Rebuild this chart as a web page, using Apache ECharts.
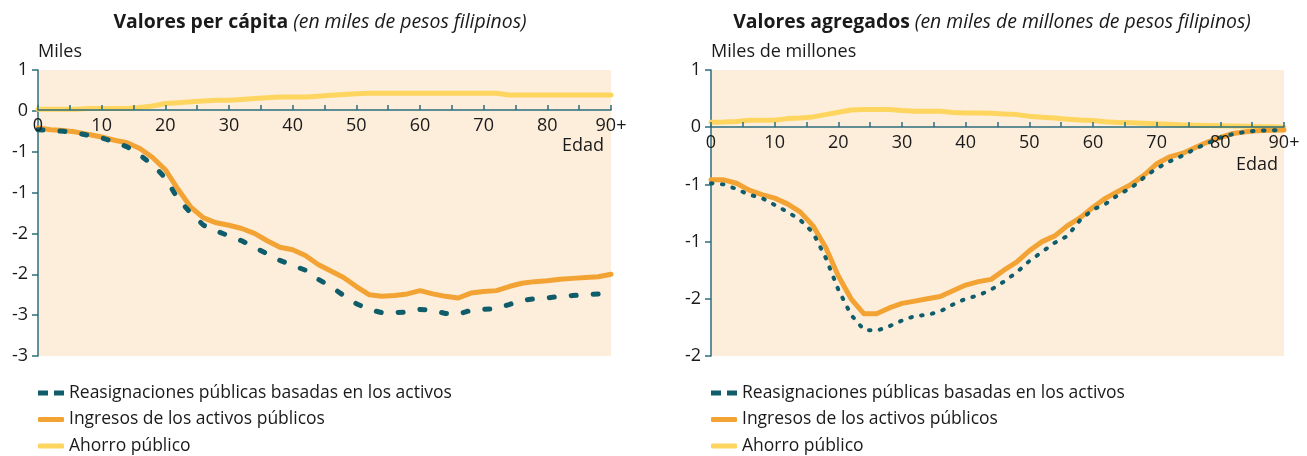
<!DOCTYPE html>
<html>
<head>
<meta charset="utf-8">
<style>
    html, body { margin: 0; padding: 0; background: #fff; }
    #chart { width: 1307px; height: 456px; }
</style>
</head>
<body>
<div id="chart"></div>
<script src="https://cdn.jsdelivr.net/npm/echarts@6/dist/echarts.min.js"></script>
<script>
    // edades (0 a 90+)
    let ages = [0, 2, 4, 6, 8, 10, 12, 14, 16, 18, 20, 22, 24, 26, 28, 30, 32, 34, 36, 38, 40, 42, 44,
        46, 48, 50, 52, 54, 56, 58, 60, 62, 64, 66, 68, 70, 72, 74, 76, 78, 80, 82, 84, 86, 88, 90];
    let xTicks = [0, 10, 20, 30, 40, 50, 60, 70, 80, '90+'];

    let seriesNames = ['Reasignaciones públicas basadas en los activos', 'Ingresos de los activos públicos', 'Ahorro público'];

    // per capita (miles de pesos)
    let pcReasig = [-0.23, -0.24, -0.25, -0.27, -0.30, -0.33, -0.38, -0.44, -0.54, -0.66, -0.82, -1.08, -1.25,
        -1.40, -1.47, -1.53, -1.59, -1.67, -1.75, -1.83, -1.89, -1.95, -2.06, -2.15, -2.26, -2.36, -2.43, -2.47,
        -2.47, -2.46, -2.43, -2.44, -2.48, -2.49, -2.44, -2.43, -2.42, -2.37, -2.32, -2.30, -2.29, -2.27, -2.26,
        -2.25, -2.24, -2.20];
    let pcIngresos = [-0.21, -0.23, -0.24, -0.26, -0.29, -0.32, -0.36, -0.39, -0.46, -0.57, -0.72, -0.96, -1.18,
        -1.31, -1.37, -1.40, -1.44, -1.50, -1.59, -1.67, -1.70, -1.77, -1.88, -1.96, -2.04, -2.15, -2.25, -2.27,
        -2.26, -2.24, -2.20, -2.24, -2.27, -2.29, -2.23, -2.21, -2.20, -2.15, -2.11, -2.09, -2.08, -2.06, -2.05,
        -2.04, -2.03, -2.00];
    let pcAhorro = [0.02, 0.02, 0.02, 0.02, 0.03, 0.03, 0.03, 0.03, 0.04, 0.06, 0.09, 0.10, 0.11, 0.12, 0.13,
        0.13, 0.14, 0.15, 0.16, 0.17, 0.17, 0.17, 0.18, 0.19, 0.20, 0.21, 0.215, 0.215, 0.215, 0.215, 0.215,
        0.215, 0.215, 0.215, 0.215, 0.215, 0.215, 0.195, 0.195, 0.195, 0.195, 0.195, 0.195, 0.195, 0.195, 0.195];

    // agregados (miles de millones de pesos)
    let agReasig = [-0.49, -0.50, -0.54, -0.59, -0.62, -0.68, -0.74, -0.81, -0.92, -1.14, -1.42, -1.64, -1.77,
        -1.78, -1.74, -1.69, -1.65, -1.64, -1.61, -1.55, -1.50, -1.47, -1.42, -1.35, -1.27, -1.17, -1.09, -1.01,
        -0.95, -0.81, -0.72, -0.67, -0.59, -0.53, -0.44, -0.36, -0.30, -0.25, -0.19, -0.14, -0.09, -0.06, -0.04,
        -0.03, -0.026, -0.025];
    let agIngresos = [-0.46, -0.46, -0.49, -0.55, -0.59, -0.62, -0.67, -0.74, -0.86, -1.05, -1.30, -1.50, -1.63,
        -1.63, -1.58, -1.54, -1.52, -1.50, -1.48, -1.43, -1.38, -1.35, -1.33, -1.25, -1.18, -1.08, -1.00, -0.95,
        -0.86, -0.79, -0.70, -0.62, -0.56, -0.50, -0.42, -0.32, -0.26, -0.23, -0.18, -0.13, -0.09, -0.055, -0.04,
        -0.03, -0.026, -0.025];
    let agAhorro = [0.044, 0.045, 0.05, 0.06, 0.06, 0.06, 0.075, 0.08, 0.09, 0.11, 0.13, 0.15, 0.155, 0.155,
        0.155, 0.145, 0.14, 0.14, 0.14, 0.128, 0.125, 0.125, 0.122, 0.115, 0.11, 0.095, 0.088, 0.08, 0.07, 0.062,
        0.058, 0.048, 0.042, 0.038, 0.034, 0.03, 0.025, 0.02, 0.017, 0.014, 0.012, 0.01, 0.008, 0.005, 0.003, 0.0];

    let font = 'Open Sans';
    let txt = '#1a1a1a';
    let teal = '#2c6e7b';
    let cReasig = '#0f5c6b';
    let cIngresos = '#f2a333';
    let cAhorro = '#fed55f';
    let bg = '#fdeedc';

    function pairs(vals) {
        return ages.map(function (a, i) { return [a, vals[i]]; });
    }
    // etiquetas redondeadas como en el original
    function roundLabel(v) {
        let r = Math.sign(v) * Math.round(Math.abs(v));
        return r === 0 ? '0' : String(r);
    }
    function xLabel(v) {
        if (v % 10 !== 0) return '';
        return String(xTicks[v / 10]);
    }

    // el eje x va sobre la linea del cero
    function xAxisFor(idx, offset) {
        return {
            gridIndex: idx, type: 'value', min: 0, max: 90, interval: 5, offset: offset,
            axisLine: { onZero: false, lineStyle: { color: teal, width: 1.5 } },
            axisTick: { inside: true, length: 5, lineStyle: { color: teal, width: 1.5 } },
            axisLabel: { formatter: xLabel, color: txt, fontFamily: font, fontSize: 18, margin: 7,
                showMinLabel: true, showMaxLabel: true },
            splitLine: { show: false },
            z: 5
        };
    }
    function yAxisFor(idx, min) {
        return {
            gridIndex: idx, type: 'value', min: min, max: 0.5, interval: 0.5,
            axisLine: { show: true, onZero: false, lineStyle: { color: teal, width: 1.5 } },
            axisTick: { show: true, length: 6, lineStyle: { color: teal, width: 1.5 } },
            axisLabel: { formatter: roundLabel, color: txt, fontFamily: font, fontSize: 18, margin: 10 },
            splitLine: { show: false }
        };
    }
    function lineSeries(idx, name, vals, color, width, dash, z) {
        return {
            name: name, type: 'line', xAxisIndex: idx, yAxisIndex: idx,
            data: pairs(vals), symbol: 'none', showSymbol: false, z: z,
            lineStyle: { color: color, width: width, type: dash || 'solid', cap: 'round', join: 'round' },
            itemStyle: { color: color }
        };
    }
    function legendFor(left) {
        return {
            orient: 'vertical', left: left, top: 384, padding: 0, itemWidth: 26, itemHeight: 5, itemGap: 8.5,
            textStyle: { color: txt, fontFamily: font, fontSize: 17.5, lineHeight: 18 },
            selectedMode: false,
            data: [
                { name: seriesNames[0], icon: 'path://M0 0h10v5h-10z M16 0h10v5h-10z' },
                { name: seriesNames[1], icon: 'roundRect' },
                { name: seriesNames[2], icon: 'roundRect' }
            ]
        };
    }
    function titleText(x, bold, ital) {
        return {
            type: 'text', x: x, y: 22,
            style: {
                text: '{b|' + bold + '} {i|' + ital + '}',
                align: 'center', verticalAlign: 'middle', fill: txt,
                fontFamily: font, fontSize: 19.4,
                rich: {
                    b: { fontWeight: 'bold', fontFamily: font, fontSize: 19.4, fill: txt },
                    i: { fontStyle: 'italic', fontFamily: font, fontSize: 19.4, fill: txt }
                }
            }
        };
    }
    function plainText(x, y, s, align) {
        return {
            type: 'text', x: x, y: y,
            style: { text: s, align: align, verticalAlign: 'middle', fill: txt, fontFamily: font, fontSize: 18 }
        };
    }

    let myChart = echarts.init(document.getElementById('chart'), null, { renderer: 'canvas' });
    let option = {
        animation: false,
        backgroundColor: '#fff',
        grid: [
            { left: 38, width: 573, top: 70, height: 286, show: true, backgroundColor: bg, borderWidth: 0 },
            { left: 711, width: 573, top: 70, height: 286, show: true, backgroundColor: bg, borderWidth: 0 }
        ],
        xAxis: [xAxisFor(0, -246), xAxisFor(1, -229)],
        yAxis: [yAxisFor(0, -3), yAxisFor(1, -2)],
        legend: [legendFor(38), legendFor(711)],
        graphic: [
            titleText(320, 'Valores per cápita', '(en miles de pesos filipinos)'),
            titleText(992, 'Valores agregados', '(en miles de millones de pesos filipinos)'),
            plainText(38, 52, 'Miles', 'left'),
            plainText(711, 52, 'Miles de millones', 'left'),
            plainText(604, 146, 'Edad', 'right'),
            plainText(1278, 165, 'Edad', 'right')
        ],
        series: [
            lineSeries(0, seriesNames[2], pcAhorro, cAhorro, 5, null, 2),
            lineSeries(0, seriesNames[1], pcIngresos, cIngresos, 5, null, 3),
            lineSeries(0, seriesNames[0], pcReasig, cReasig, 5, [5, 17], 4),
            lineSeries(1, seriesNames[2], agAhorro, cAhorro, 5, null, 2),
            lineSeries(1, seriesNames[1], agIngresos, cIngresos, 5, null, 3),
            lineSeries(1, seriesNames[0], agReasig, cReasig, 4, [1.5, 9.5], 4)
        ]
    };
    myChart.setOption(option);
</script>
</body>
</html>
